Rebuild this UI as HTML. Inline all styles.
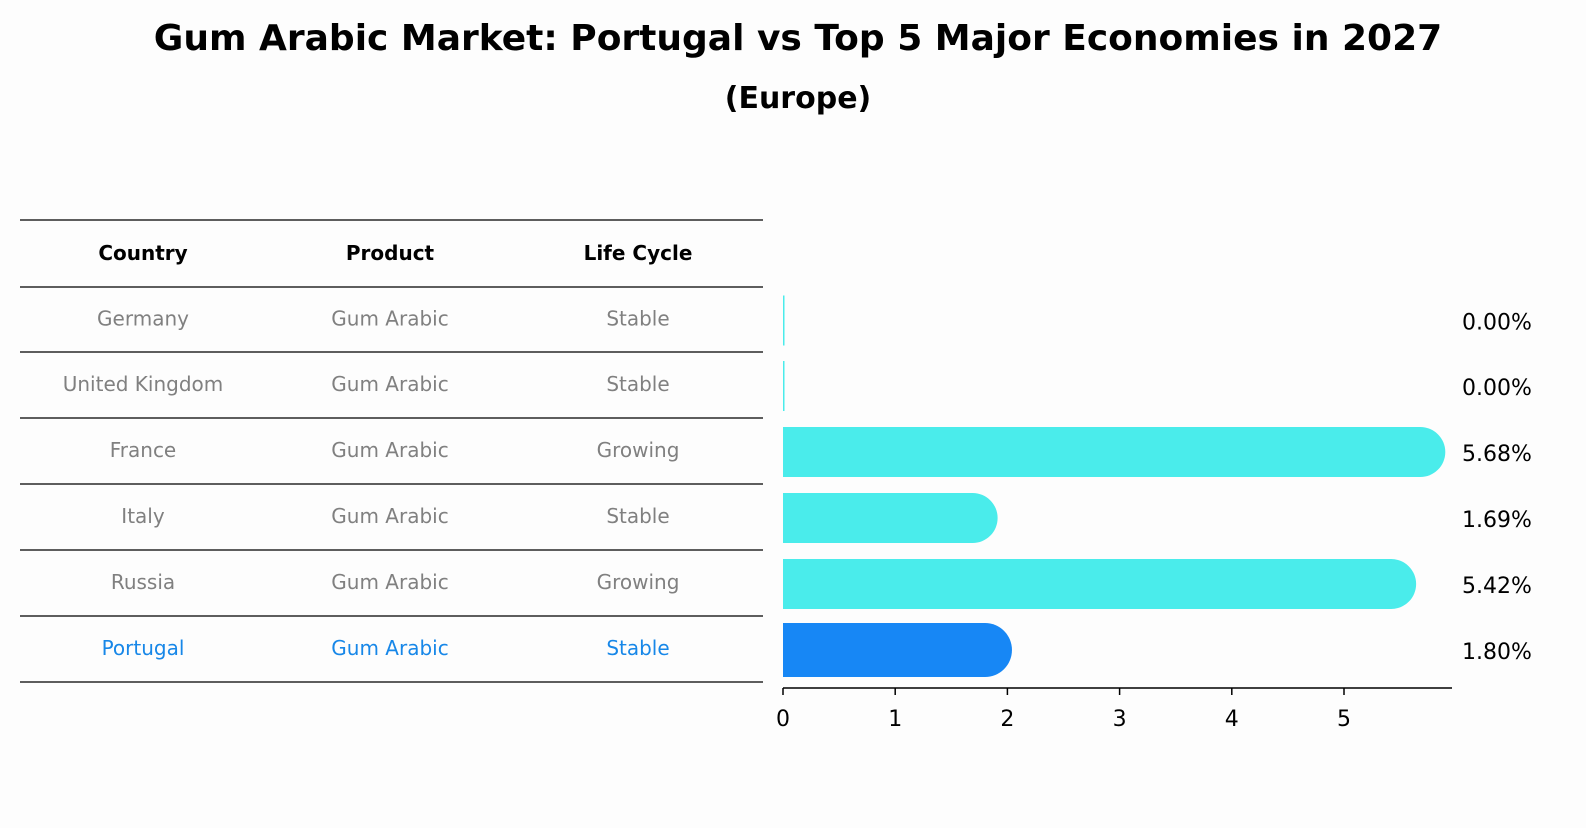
<!DOCTYPE html>
<html><head><meta charset="utf-8"><style>
body{margin:0;background:#fdfdfd;font-family:"Liberation Sans","DejaVu Sans",sans-serif}
svg text{font-family:"DejaVu Sans","Liberation Sans",sans-serif}
</style></head><body>
<svg id="c" width="1586" height="823" xmlns="http://www.w3.org/2000/svg">
<rect width="1586" height="823" fill="#fdfdfd"/>
<text x="798" y="50" text-anchor="middle" font-size="36" font-weight="bold">Gum Arabic Market: Portugal vs Top 5 Major Economies in 2027</text>
<text x="798" y="108" text-anchor="middle" font-size="30" font-weight="bold">(Europe)</text>
<g id="tbl"></g>
<g id="bars"></g>
</svg>
<script>
const countries=["Germany","United Kingdom","France","Italy","Russia","Portugal"];
const products=["Gum Arabic","Gum Arabic","Gum Arabic","Gum Arabic","Gum Arabic","Gum Arabic"];
const lifecycle=["Stable","Stable","Growing","Stable","Growing","Stable"];
const values=[0.00,0.00,5.68,1.69,5.42,1.80];
const ticks=[0,1,2,3,4,5];
const NS="http://www.w3.org/2000/svg";
function mk(t,a,p){const e=document.createElementNS(NS,t);for(const k in a)e.setAttribute(k,a[k]);p.appendChild(e);return e;}
const tbl=document.getElementById('tbl'),bars=document.getElementById('bars');
const lines=[220,287,352,418,484,550,616,682];
const cx=[143,390,638];
lines.forEach(y=>{const l=mk('line',{x1:20,x2:763,y1:y,y2:y,stroke:'#000','stroke-width':1.3},tbl);

});
["Country","Product","Life Cycle"].forEach((h,i)=>{const t=mk('text',{x:cx[i],y:260,'text-anchor':'middle','font-size':20,'font-weight':'bold'},tbl);t.textContent=h;

});
const x0=783,ppu=112.2;
const X=v=>x0+v*ppu;
const rowY=i=>(lines[i+1]+lines[i+2])/2;
countries.forEach((c,i)=>{
 const y=rowY(i),last=i===countries.length-1,col=last?'#1787e8':'#808080';
 [c,products[i],lifecycle[i]].forEach((s,j)=>{const t=mk('text',{x:cx[j],y:y+6,'text-anchor':'middle','font-size':20,fill:col},tbl);t.textContent=s;
 
 });
 const by=y+1,h=last?54:50,fill=last?'#1787f5':'#4aeceb';
 const v=values[i];
 if(v>0){
  const p=mk('path',{d:`M${x0},${by-h/2}H${X(v)}A${h/2},${h/2} 0 0 1 ${X(v)},${by+h/2}H${x0}Z`,fill:fill},bars);
  
  
 } else {
  const p=mk('rect',{x:x0,y:by-h/2,width:1.5,height:h,fill:fill},bars);
  
  
 }
 const t=mk('text',{x:1462,y:by+9,'font-size':22},bars);t.textContent=v.toFixed(2)+'%';
 
 
});
const ax=mk('line',{x1:x0,x2:1452,y1:688,y2:688,stroke:'#000','stroke-width':1.5},bars);


ticks.forEach(v=>{const l=mk('line',{x1:X(v),x2:X(v),y1:688,y2:695,stroke:'#000','stroke-width':1.5},bars);
 
 
 const t=mk('text',{x:X(v),y:726,'text-anchor':'middle','font-size':22},bars);t.textContent=v;
 
 });
</script>
</body></html>
